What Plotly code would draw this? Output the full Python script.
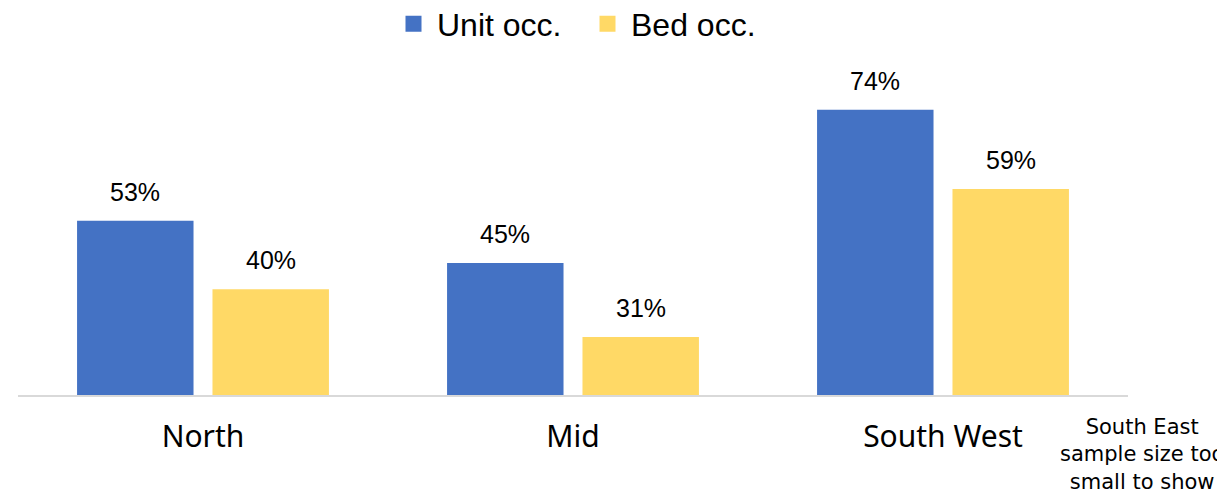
import plotly.graph_objects as go

# Occupancy by region
regions = ["North", "Mid", "South West"]
unit_occ = [0.53, 0.45, 0.74]
bed_occ = [0.40, 0.31, 0.59]
series_names = ["Unit occ.", "Bed occ."]
series_colors = ["#4472C4", "#FFD966"]
note_text = "South East<br>sample size too<br>small to show"

W, H = 1217, 490
M_L, M_R, M_T, M_B = 18, 89, 78, 95
BARGAP = 0.268
BARGROUPGAP = 0.14

fig = go.Figure()
for name, vals, col in zip(series_names, [unit_occ, bed_occ], series_colors):
    fig.add_trace(go.Bar(
        x=regions, y=vals, name=name, marker_color=col,
        marker_line_width=0, showlegend=False,
    ))
    # legend entry with a larger square swatch
    fig.add_trace(go.Scatter(
        x=[None], y=[None], mode="markers", name=name,
        marker=dict(symbol="square", size=16, color=col),
        showlegend=True,
    ))

# value labels above each bar, offset to its slot within the group
plot_w = W - M_L - M_R
plot_h = H - M_T - M_B
cat_w = plot_w / len(regions)
slot = cat_w * (1 - BARGAP) / 2
for k, vals in enumerate([unit_occ, bed_occ]):
    shift = (k - 0.5) * slot
    for r, v in zip(regions, vals):
        fig.add_annotation(
            x=r, y=v, xref="x", yref="y", text=f"{v:.0%}",
            showarrow=False, xshift=shift, yshift=29, yanchor="middle",
            font=dict(family="Liberation Sans, Arial", size=25, color="#000000"),
        )

fig.add_annotation(
    x=(1142 - M_L) / plot_w, y=-(454 - (H - M_B)) / plot_h,
    xref="paper", yref="paper",
    text=note_text, showarrow=False, xanchor="center", yanchor="middle",
    align="center",
    font=dict(family="DejaVu Sans", size=21, color="#000000"),
)

fig.update_layout(
    width=W, height=H,
    margin=dict(l=M_L, r=M_R, t=M_T, b=M_B, pad=0),
    paper_bgcolor="white", plot_bgcolor="white",
    barmode="group", bargap=BARGAP, bargroupgap=BARGROUPGAP,
    legend=dict(
        orientation="h", x=(584 - M_L) / plot_w, xanchor="center", xref="paper",
        y=1 - 24 / H, yanchor="middle", yref="container",
        font=dict(family="Liberation Sans, Arial", size=32, color="#000000"),
        itemwidth=37, tracegroupgap=0, entrywidth=142,
    ),
    xaxis=dict(
        showline=True, linecolor="#D9D9D9", linewidth=2,
        showgrid=False, ticks="", zeroline=False,
        tickfont=dict(family="Noto Sans", size=30, color="#000000"),
        ticklabelstandoff=14,
    ),
    yaxis=dict(
        range=[0.2, 0.8], visible=False, showgrid=False, zeroline=False,
    ),
)

fig.write_html("out.html")
